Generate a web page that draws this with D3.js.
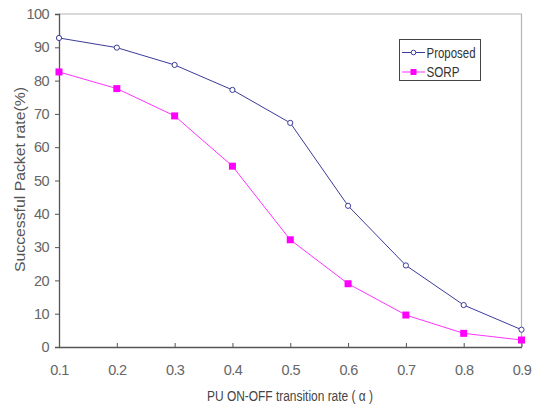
<!DOCTYPE html>
<html><head><meta charset="utf-8">
<script src="https://cdn.jsdelivr.net/npm/d3@7"></script>
<style>body{margin:0;background:#fff;}svg{display:block;}</style>
</head><body>
<script>
const alphas = [0.1,0.2,0.3,0.4,0.5,0.6,0.7,0.8,0.9];
const proposed = [92.8,89.9,84.7,77.2,67.3,42.4,24.5,12.6,5.2];
const sorp = [82.6,77.6,69.4,54.3,32.2,19.0,9.6,4.1,2.1];
const yTicks = [0,10,20,30,40,50,60,70,80,90,100];
const xTicks = [0.1,0.2,0.3,0.4,0.5,0.6,0.7,0.8,0.9];

const W=542,H=405;
const m={l:59,r:20,t:14,b:58};
const font='"Liberation Sans",Arial,sans-serif';
const svg=d3.select("body").append("svg").attr("width",W).attr("height",H);
const x=d3.scaleLinear().domain([0.1,0.9]).range([m.l,W-m.r-0.5]);
const y=d3.scaleLinear().domain([0,100]).range([H-m.b,m.t]);

svg.append("path").attr("d",`M${m.l},${m.t}H${x(0.9)}V${y(0)}`).attr("fill","none").attr("stroke","#b4b4b4").attr("stroke-width",1.2);

const gy=svg.append("g").attr("transform",`translate(${m.l},0)`)
 .call(d3.axisLeft(y).tickValues(yTicks).tickSize(4).tickPadding(6));
const gx=svg.append("g").attr("transform",`translate(0,${y(0)})`)
 .call(d3.axisBottom(x).tickValues(xTicks).tickFormat(d3.format(".1f")).tickSizeInner(-4).tickSizeOuter(0).tickPadding(18));
[gy,gx].forEach(g=>{
 g.select(".domain").attr("stroke","#555").attr("stroke-width",1.3);
 g.selectAll(".tick line").attr("stroke","#555");
 g.selectAll("text").attr("fill","#666").style("font-family",font).style("font-size","14.5px").style("letter-spacing","-0.6px");
});
gx.selectAll(".tick").filter(d=>d===0.1).select("line").remove();

const line=d3.line().x((d,i)=>x(alphas[i])).y(d=>y(d));
svg.append("path").datum(proposed).attr("d",line).attr("fill","none").attr("stroke","#3b3b9a").attr("stroke-width",1);
svg.append("path").datum(sorp).attr("d",line).attr("fill","none").attr("stroke","#ff33ff").attr("stroke-width",1);
svg.selectAll("circle.p").data(proposed).enter().append("circle").attr("class","p")
 .attr("cx",(d,i)=>x(alphas[i])).attr("cy",d=>y(d)).attr("r",2.6)
 .attr("fill","#fff").attr("stroke","#3b3b9a").attr("stroke-width",1);
svg.selectAll("rect.s").data(sorp).enter().append("rect").attr("class","s")
 .attr("x",(d,i)=>x(alphas[i])-3.5).attr("y",d=>y(d)-3.5).attr("width",7).attr("height",7)
 .attr("fill","#ff00ff");

const lg=svg.append("g");
lg.append("rect").attr("x",399.5).attr("y",39.5).attr("width",81).attr("height",41).attr("fill","#fff").attr("stroke","#444");
lg.append("line").attr("x1",402).attr("x2",425).attr("y1",52.5).attr("y2",52.5).attr("stroke","#3b3b9a");
lg.append("circle").attr("cx",413.5).attr("cy",52.5).attr("r",2.3).attr("fill","#fff").attr("stroke","#3b3b9a");
lg.append("line").attr("x1",402).attr("x2",425).attr("y1",72).attr("y2",72).attr("stroke","#ff33ff");
lg.append("rect").attr("x",410.5).attr("y",69).attr("width",6).attr("height",6).attr("fill","#ff00ff");
lg.append("text").attr("x",426.5).attr("y",57.5).text("Proposed").attr("fill","#333")
 .attr("textLength",49).attr("lengthAdjust","spacingAndGlyphs").style("font-family",font).style("font-size","15px");
lg.append("text").attr("x",426.5).attr("y",77).text("SORP").attr("fill","#333")
 .attr("textLength",33).attr("lengthAdjust","spacingAndGlyphs").style("font-family",font).style("font-size","15px");

svg.append("text").attr("x",207).attr("y",401).attr("fill","#444")
 .attr("textLength",166).attr("lengthAdjust","spacingAndGlyphs")
 .style("font-family",font).style("font-size","14px").text("PU ON-OFF transition rate ( α )");
svg.append("text").attr("transform","translate(25,272) rotate(-90)").attr("fill","#555")
 .attr("textLength",185).attr("lengthAdjust","spacingAndGlyphs")
 .style("font-family",font).style("font-size","15px").text("Successful Packet rate(%)");
</script>
</body></html>
